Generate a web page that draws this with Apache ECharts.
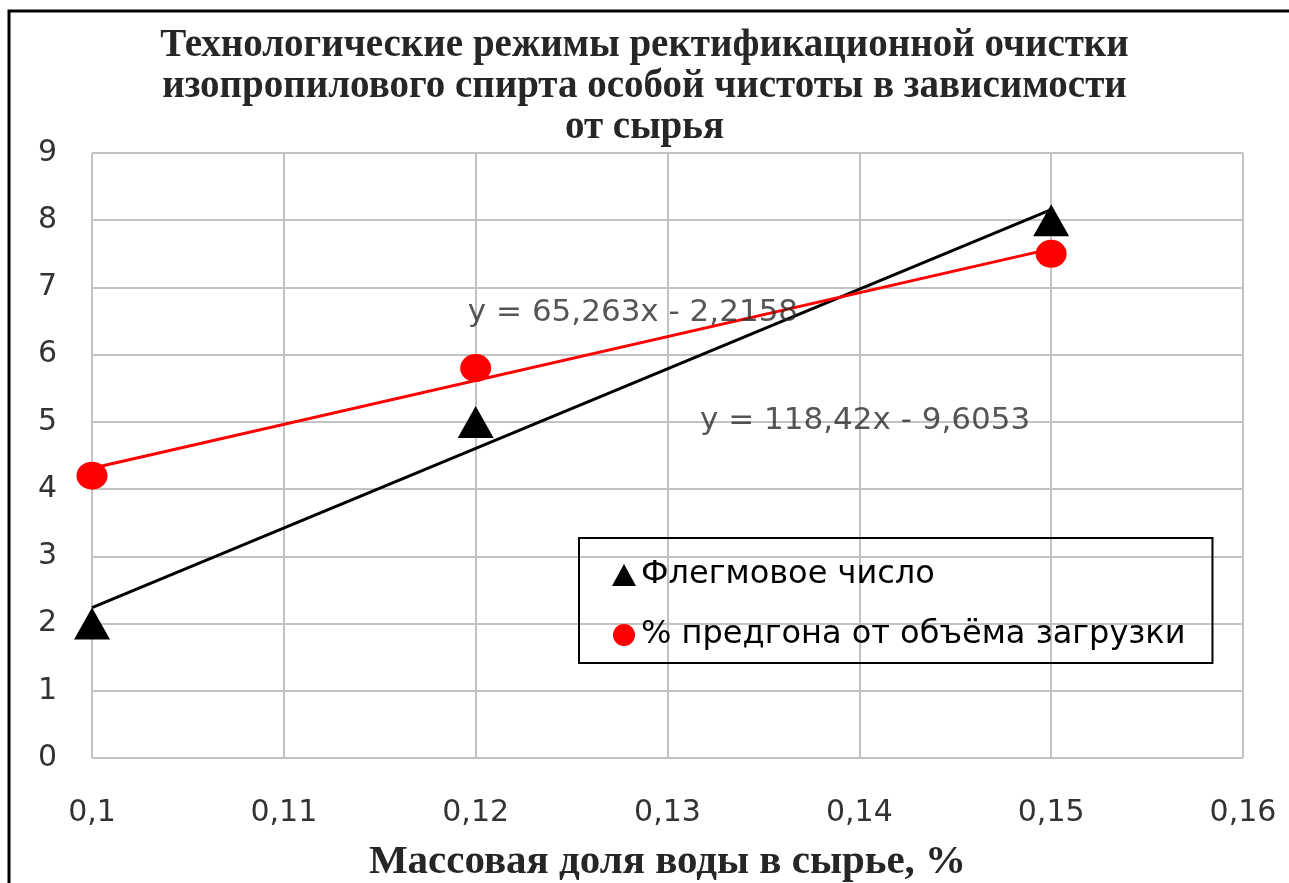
<!DOCTYPE html>
<html>
<head>
<meta charset="utf-8">
<script src="https://cdn.jsdelivr.net/npm/echarts@6/dist/echarts.min.js"></script>
<style>
  html, body { margin: 0; padding: 0; background: #fff; }
  #chart { width: 1289px; height: 883px; }
</style>
</head>
<body>
<div id="chart"></div>
<script>
// Water content in the feed, %
const waterShare = [0.10, 0.12, 0.15];
// Reflux ratio
const refluxRatio = [2, 5, 8];
// Heads fraction, % of the charge volume
const headsPercent = [4.2, 5.8, 7.5];

const seriesNames = ['Флегмовое число', '% предгона от объёма загрузки'];

// Linear trend coefficients [slope, intercept]
const refluxTrend = [118.42, -9.6053];
const headsTrend = [65.263, -2.2158];
const trendLabels = ['y = 118,42x - 9,6053', 'y = 65,263x - 2,2158'];

const xTicks = { min: 0.1, max: 0.16, step: 0.01 };
const yTicks = { min: 0, max: 9, step: 1 };

const titleText = 'Технологические режимы ректификационной очистки\nизопропилового спирта особой чистоты в зависимости\nот сырья';
const xAxisTitle = 'Массовая доля воды в сырье, %';

function trendPoints(coef) {
  const x0 = waterShare[0], x1 = waterShare[waterShare.length - 1];
  return [[x0, coef[0] * x0 + coef[1]], [x1, coef[0] * x1 + coef[1]]];
}

const comma = v => String(Number(v.toFixed(4))).replace('.', ',');
const sans = 'DejaVu Sans';

const chart = echarts.init(document.getElementById('chart'));
chart.setOption({
  animation: false,
  backgroundColor: '#fff',
  grid: { left: 92, right: 46, top: 153, bottom: 125, containLabel: false, outerBoundsMode: 'none' },
  title: {
    text: titleText,
    left: 'center',
    top: 20,
    textStyle: {
      fontFamily: 'Liberation Serif',
      fontWeight: 'bold',
      fontSize: 39,
      lineHeight: 41,
      color: '#262626'
    }
  },
  legend: {
    orient: 'vertical',
    left: 579,
    top: 538,
    data: [
      { name: seriesNames[0], icon: 'triangle' },
      { name: seriesNames[1], icon: 'circle' }
    ],
    itemWidth: 24,
    itemHeight: 22,
    itemGap: 28,
    itemTextGap: 10,
    padding: [21, 27, 12, 33],
    borderColor: '#000',
    borderWidth: 2,
    textStyle: { fontFamily: sans, fontSize: 32, color: '#000' }
  },
  xAxis: {
    type: 'value',
    min: xTicks.min,
    max: xTicks.max,
    interval: xTicks.step,
    axisLine: { show: false },
    axisTick: { show: false },
    splitLine: { show: true, lineStyle: { color: '#c3c3c3', width: 2 } },
    axisLabel: {
      margin: 40,
      fontFamily: sans,
      fontSize: 30,
      color: '#333333',
      formatter: comma
    },
    name: xAxisTitle,
    nameLocation: 'middle',
    nameGap: 84,
    nameTextStyle: {
      fontFamily: 'Liberation Serif',
      fontWeight: 'bold',
      fontSize: 41,
      color: '#262626'
    }
  },
  yAxis: {
    type: 'value',
    min: yTicks.min,
    max: yTicks.max,
    interval: yTicks.step,
    axisLine: { show: false },
    axisTick: { show: false },
    splitLine: { show: true, lineStyle: { color: '#c3c3c3', width: 2 } },
    axisLabel: {
      margin: 35,
      fontFamily: sans,
      fontSize: 30,
      color: '#333333'
    }
  },
  series: [
    {
      name: 'trend-reflux',
      type: 'line',
      data: trendPoints(refluxTrend),
      symbol: 'none',
      lineStyle: { color: '#000', width: 3 },
      z: 2
    },
    {
      name: 'trend-heads',
      type: 'line',
      data: trendPoints(headsTrend),
      symbol: 'none',
      lineStyle: { color: '#ff0000', width: 3 },
      z: 2
    },
    {
      name: seriesNames[0],
      type: 'scatter',
      symbol: 'triangle',
      symbolSize: [36, 32],
      itemStyle: { color: '#000', opacity: 1 },
      data: waterShare.map((x, i) => [x, refluxRatio[i]]),
      z: 3
    },
    {
      name: seriesNames[1],
      type: 'scatter',
      symbol: 'circle',
      symbolSize: [31, 28],
      itemStyle: { color: '#ff0000', opacity: 1 },
      data: waterShare.map((x, i) => [x, headsPercent[i]]),
      z: 3
    },
    {
      name: 'trend-labels',
      type: 'scatter',
      symbolSize: 0,
      silent: true,
      data: [
        { value: [0.1403, 5.01], label: { formatter: trendLabels[0] } },
        { value: [0.1282, 6.62], label: { formatter: trendLabels[1] } }
      ],
      label: {
        show: true,
        position: 'inside',
        fontFamily: sans,
        fontSize: 31,
        color: '#2b2b2b'
      },
      z: 4
    }
  ],
  graphic: [
    {
      type: 'polyline',
      shape: { points: [[9, 900], [9, 11], [1300, 11]] },
      style: { fill: 'none', stroke: '#000', lineWidth: 3 },
      silent: true,
      z: 100
    }
  ]
});
</script>
</body>
</html>
